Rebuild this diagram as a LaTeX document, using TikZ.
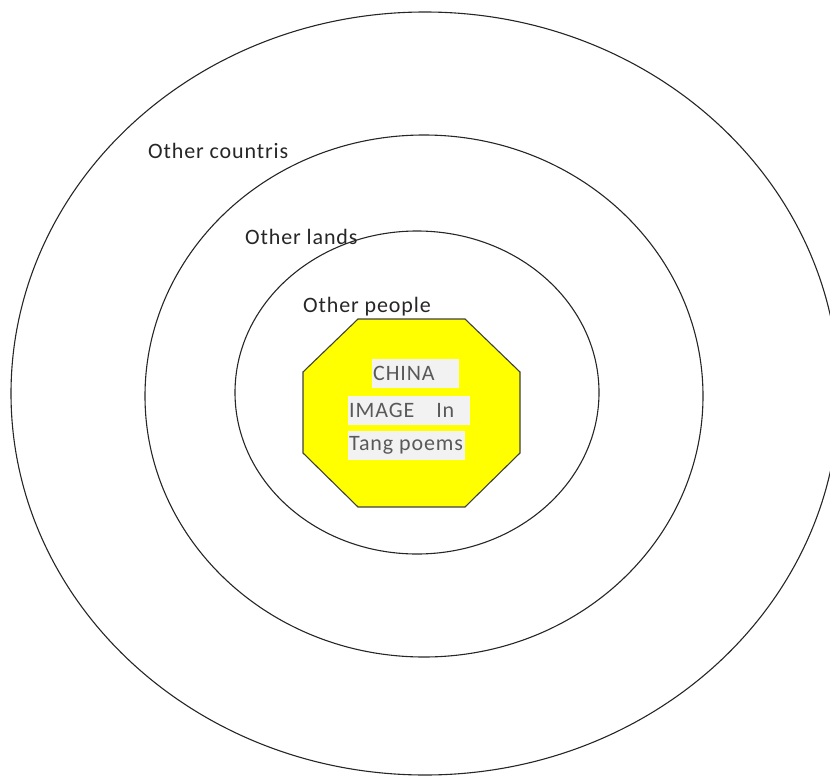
\documentclass[tikz,border=0pt]{standalone}
\usepackage{fontspec}
\setmainfont{Carlito}[LetterSpace=4]
\usepackage{xcolor}
\usepackage{tikz}
\usetikzlibrary{positioning}

\definecolor{octyellow}{HTML}{FFFF00}
\definecolor{octline}{HTML}{404040}
\definecolor{txtgray}{HTML}{595959}
\definecolor{boxgray}{HTML}{F2F2F2}

\tikzset{
  ring/.style={draw=black!85,line width=1.1pt},
  ringlabel/.style={anchor=base west,inner sep=0pt,font=\fontsize{22}{26}\selectfont,text=black!85},
  centrebox/.style={anchor=north west,fill=boxgray,text=txtgray,inner xsep=1pt,inner ysep=0pt,
    minimum height=29pt,font=\fontsize{22}{26}\selectfont}
}

\begin{document}
\begin{tikzpicture}[x=1pt,y=-1pt]
			\useasboundingbox (0,0) rectangle (830,776);
			\clip (0,0) rectangle (830,776);

			% rings
			\draw[ring] (425,393.5) ellipse [x radius=414,y radius=381.5];
			\draw[ring] (424,396) ellipse [x radius=279,y radius=261];
			\draw[ring] (417,392.5) ellipse [x radius=182,y radius=161.5];

			% centre octagon
			\draw[fill=octyellow,draw=octline,line width=1.1pt]
				(358,319) -- (465,319) -- (520,372) -- (520,453) -- (465,507)
				-- (358,507) -- (303,453) -- (303,372) -- cycle;

			\node[ringlabel] (countries) at (148,158) {Other countris};
			\node[ringlabel] (lands) at (245,244) {Other lands};
			\node[ringlabel] (people) at (303,312) {Other people};

			\node[centrebox] (china) at (372,359) {\makebox[85pt][l]{CHINA}};
			\node[centrebox] (image) at (348,396) {\makebox[120pt][l]{IMAGE\hspace*{22pt}In}};
			\node[centrebox] (tang) at (348,431) {\makebox[115pt][l]{Tang poe\hspace*{1pt}ms}};
		\end{tikzpicture}
\end{document}
